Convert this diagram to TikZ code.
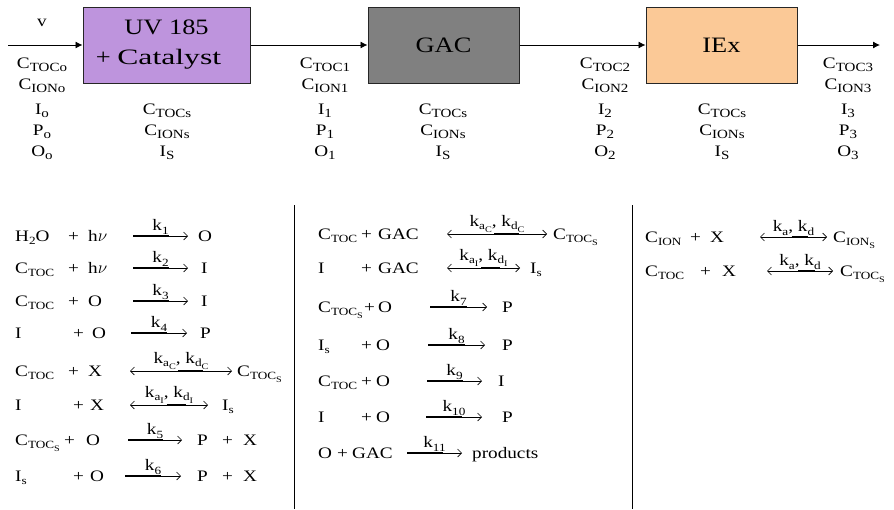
\documentclass[tikz,border=0pt]{standalone}
\usepackage{fontspec}
\setmainfont{Liberation Serif}[FakeStretch=1.2]
\usetikzlibrary{arrows.meta, calc, positioning}
\definecolor{uvpurple}{RGB}{190,148,221}
\definecolor{gacgray}{RGB}{128,128,128}
\definecolor{iexpeach}{RGB}{251,201,151}
\tikzset{
  unit/.style = {draw=black!85, line width=1pt, minimum height=76pt, inner sep=0pt, align=center, font=\fontsize{22}{30}\selectfont},
  flow/.style = {-{Latex[length=7pt,width=7pt]}, line width=0.9pt},
  lbl/.style = {anchor=base, inner sep=0pt, font=\fontsize{16}{19}\selectfont},
  spc/.style = {anchor=base west, inner sep=0pt, font=\fontsize{16}{19}\selectfont},
  rate/.style = {above, inner sep=1.5pt, font=\fontsize{16}{19}\selectfont},
  rxn/.style = {-{Straight Barb[length=4pt,width=8pt]}, line width=0.6pt},
  rxneq/.style = {{Straight Barb[length=4pt,width=8pt]}-{Straight Barb[length=4pt,width=8pt]}, line width=0.6pt},
  rxnbar/.style = {line width=1.4pt},
}
% subscripts: stream labels, reactions, and one level further down
\newcommand{\slo}[1]{\raisebox{-3.5pt}{\fontsize{12.5}{12.5}\selectfont #1}}
\newcommand{\lo}[1]{\raisebox{-3.5pt}{\fontsize{11}{11}\selectfont #1}}
\newcommand{\llo}[1]{\raisebox{-2.5pt}{\fontsize{8.5}{8.5}\selectfont #1}}
\newcommand{\spc}[4]{\node[spc] (#1) at (#2,#3+5) {#4};}
\newcommand{\fwd}[5]{%
  \coordinate (#1a) at (#2,#4);
  \coordinate (#1b) at (#3,#4);
  \draw[rxn] (#1a) -- (#1b);
  \draw[rxnbar] (#1a) -- ($(#1a)!0.65!(#1b)$);
  \node[rate] (#1k) at ($(#1a)!0.5!(#1b)$) {#5};}
\newcommand{\eqm}[5]{%
  \coordinate (#1a) at (#2,#4);
  \coordinate (#1b) at (#3,#4);
  \draw[rxneq] (#1a) -- (#1b);
  \draw[rxnbar] ($(#1a)!0.47!(#1b)$) -- ($(#1a)!0.72!(#1b)$);
  \node[rate] (#1k) at ($(#1a)!0.5!(#1b)$) {#5};}
\newcommand{\Ctoc}{C\lo{TOC}}
\newcommand{\Ctocs}{C\lo{TOC\llo{S}}}
\newcommand{\Isorb}{I\lo{s}}
\newcommand{\kk}[1]{k\lo{#1}}
\newcommand{\kpair}[2]{k\lo{a\llo{#1}}, k\lo{d\llo{#2}}}

\begin{document}
\begin{tikzpicture}[x=1pt, y=-1pt]
    \useasboundingbox (0,0) rectangle (894,509);

    % Treatment train
    \node[unit, fill=uvpurple, minimum width=167pt] (uv) at (166.5,45) {UV 185\\+ \scalebox{1.2}[1]{Catalyst}\hspace*{16pt}};
    \node[unit, fill=gacgray, minimum width=151pt] (gac) at (443.5,45) {GAC};
    \node[unit, fill=iexpeach, minimum width=151pt] (iex) at (721.5,45) {IEx};
    \coordinate (feed) at (8,45);
    \coordinate (out) at (880,45);
    \draw[flow] (feed) -- (uv);
    \draw[flow] (uv) -- (gac);
    \draw[flow] (gac) -- (iex);
    \draw[flow] (iex) -- (out);
    \node[lbl] (v) at (42,26) {v};

    % Stream states
    \foreach \x/\s/\n in {42/o/s0, 325/1/s1, 605/2/s2, 848/3/s3} {
        \node[lbl] (\n c) at (\x,68) {C\slo{TOC\s}};
        \node[lbl] (\n n) at (\x,89) {C\slo{ION\s}};
        \node[lbl] (\n i) at (\x,114) {I\slo{\s}};
        \node[lbl] (\n p) at (\x,135) {P\slo{\s}};
        \node[lbl] (\n o) at (\x,156) {O\slo{\s}};
    }
    % Surface states
    \foreach \x/\n in {167/m1, 443/m2, 722/m3} {
        \node[lbl] (\n c) at (\x,114) {C\slo{TOCs}};
        \node[lbl] (\n n) at (\x,135) {C\slo{IONs}};
        \node[lbl] (\n i) at (\x,156) {I\slo{S}};
    }

    % Column rules
    \draw[line width=0.8pt] (294,205) -- (294,509);
    \draw[line width=0.8pt] (632,205) -- (632,509);

    % UV reactions
    \spc{a1r}{15}{236}{H\lo{2}O} \spc{a1p}{68}{236}{+} \spc{a1s}{88}{236}{h$\nu$}
    \fwd{a1}{133}{188}{236}{\kk{1}} \spc{a1o}{198}{236}{O}
    \spc{a2r}{15}{268}{\Ctoc} \spc{a2p}{68}{268}{+} \spc{a2s}{88}{268}{h$\nu$}
    \fwd{a2}{133}{188}{268}{\kk{2}} \spc{a2o}{201}{268}{I}
    \spc{a3r}{15}{301}{\Ctoc} \spc{a3p}{68}{301}{+} \spc{a3s}{88}{301}{O}
    \fwd{a3}{133}{188}{301}{\kk{3}} \spc{a3o}{201}{301}{I}
    \spc{a4r}{15}{333}{I} \spc{a4p}{73}{333}{+} \spc{a4s}{92}{333}{O}
    \fwd{a4}{131}{187}{333}{\kk{4}} \spc{a4o}{200}{333}{P}
    \spc{a5r}{15}{371}{\Ctoc} \spc{a5p}{68}{371}{+} \spc{a5s}{88}{371}{X}
    \eqm{a5}{130}{232}{371}{\kpair{C}{C}} \spc{a5o}{237}{371}{\Ctocs}
    \spc{a6r}{15}{405}{I} \spc{a6p}{73}{405}{+} \spc{a6s}{90}{405}{X}
    \eqm{a6}{130}{208}{405}{\kpair{I}{I}} \spc{a6o}{222}{405}{\Isorb}
    \spc{a7r}{15}{440}{\Ctocs} \spc{a7p}{64}{440}{+} \spc{a7s}{86}{440}{O}
    \fwd{a7}{128}{182}{440}{\kk{5}} \spc{a7o}{197}{440}{P}
    \spc{a7q}{222}{440}{+} \spc{a7x}{243}{440}{X}
    \spc{a8r}{15}{476}{\Isorb} \spc{a8p}{73}{476}{+} \spc{a8s}{90}{476}{O}
    \fwd{a8}{125}{181}{476}{\kk{6}} \spc{a8o}{197}{476}{P}
    \spc{a8q}{222}{476}{+} \spc{a8x}{243}{476}{X}

    % GAC reactions
    \spc{b1r}{318}{234}{\Ctoc} \spc{b1p}{361}{234}{+} \spc{b1s}{378}{234}{GAC}
    \eqm{b1}{447}{547}{234}{\kpair{C}{C}} \spc{b1o}{553}{234}{\Ctocs}
    \spc{b2r}{318}{268}{I} \spc{b2p}{361}{268}{+} \spc{b2s}{378}{268}{GAC}
    \eqm{b2}{447}{520}{268}{\kpair{I}{I}} \spc{b2o}{530}{268}{\Isorb}
    \spc{b3r}{318}{307}{\Ctocs} \spc{b3p}{364}{307}{+} \spc{b3s}{378}{307}{O}
    \fwd{b3}{430}{487}{307}{\kk{7}} \spc{b3o}{502}{307}{P}
    \spc{b4r}{318}{345}{\Isorb} \spc{b4p}{361}{345}{+} \spc{b4s}{376}{345}{O}
    \fwd{b4}{428}{485}{345}{\kk{8}} \spc{b4o}{502}{345}{P}
    \spc{b5r}{318}{381}{\Ctoc} \spc{b5p}{361}{381}{+} \spc{b5s}{376}{381}{O}
    \fwd{b5}{427}{482}{381}{\kk{9}} \spc{b5o}{498}{381}{I}
    \spc{b6r}{318}{417}{I} \spc{b6p}{361}{417}{+} \spc{b6s}{376}{417}{O}
    \fwd{b6}{426}{482}{417}{\kk{10}} \spc{b6o}{502}{417}{P}
    \spc{b7r}{318}{453}{O} \spc{b7p}{337}{453}{+} \spc{b7s}{352}{453}{GAC}
    \fwd{b7}{407}{462}{453}{\kk{11}} \spc{b7o}{472}{453}{products}

    % IEx reactions
    \spc{c1r}{645}{237}{C\lo{ION}} \spc{c1p}{690}{237}{+} \spc{c1s}{710}{237}{X}
    \eqm{c1}{760}{827}{237}{k\lo{a}, k\lo{d}} \spc{c1o}{833}{237}{C\lo{ION\llo{S}}}
    \spc{c2r}{645}{271}{\Ctoc} \spc{c2p}{700}{271}{+} \spc{c2s}{722}{271}{X}
    \eqm{c2}{767}{833}{271}{k\lo{a}, k\lo{d}} \spc{c2o}{840}{271}{\Ctocs}
\end{tikzpicture}
\end{document}
